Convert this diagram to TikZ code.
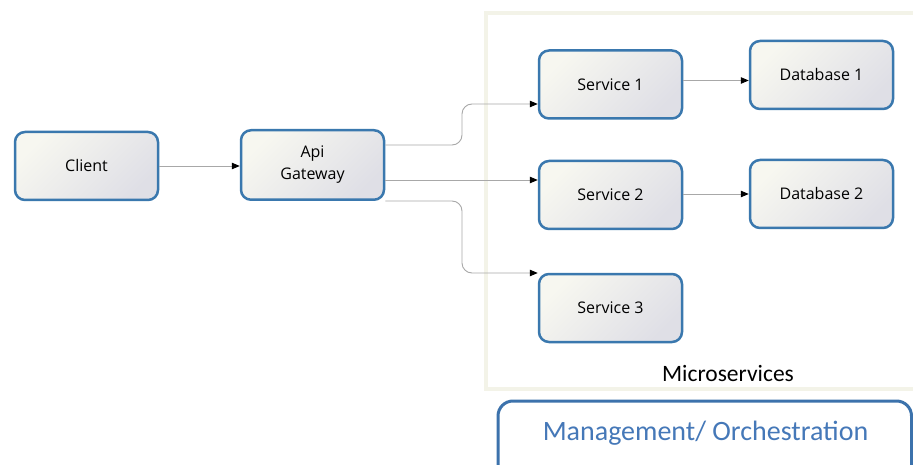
\documentclass[tikz,border=0pt]{standalone}
\usepackage{fontspec}
\setmainfont{Open Sans}
\newfontfamily\carl{Carlito}
\usetikzlibrary{arrows.meta,calc}
\definecolor{nodeblue}{HTML}{3A78AE}
\definecolor{nodelight}{HTML}{F7F7F0}
\definecolor{nodedark}{HTML}{DFDFE6}
\definecolor{framecol}{HTML}{F3F3E8}
\definecolor{conngray}{HTML}{A8A8A8}
\definecolor{mgmtblue}{HTML}{3C72AC}
\definecolor{mgmttext}{HTML}{4578B8}
\tikzset{
  boxnode/.style={draw=nodeblue, line width=2.5pt, rounded corners=10pt,
    top color=nodelight, bottom color=nodedark, shading angle=45,
    minimum width=143pt, minimum height=68pt, inner sep=0pt,
    align=center, font=\fontsize{16}{22}\selectfont},
  conn/.style={draw=conngray, line width=0.9pt,
    -{Triangle[length=8pt,width=6.5pt,fill=black,color=black]}},
}
\begin{document}
\begin{tikzpicture}[x=1pt,y=-1pt]
\useasboundingbox (0,0) rectangle (913,465);
\clip (0,0) rectangle (913,465);
\fill[white] (0,0) rectangle (913,465);
% microservices frame
\draw[framecol, line width=4.5pt, fill=white] (486,13) rectangle (940,389);
\node[font=\carl\fontsize{23.5}{26}\selectfont, anchor=center] (mslabel) at (728,374) {Microservices};
% management box
\draw[mgmtblue, line width=3pt, rounded corners=15pt] (498,401) rectangle (911.5,500);
\node[font=\carl\fontsize{28}{30}\selectfont, text=mgmttext] (mgmt) at (705.5,433) {Management/ Orchestration};
% nodes
\node[boxnode] (client) at (86.5,166) {Client};
\node[boxnode, minimum height=69.5pt] (api) at (312.5,165) {Api\\Gateway};
\node[boxnode] (s1) at (610.5,84.5) {Service 1};
\node[boxnode] (db1) at (821.5,75) {Database 1};
\node[boxnode] (s2) at (610.5,195) {Service 2};
\node[boxnode] (db2) at (821.5,194) {Database 2};
\node[boxnode] (s3) at (610.5,308) {Service 3};
% connector points
\coordinate (c1) at (client.east);
\coordinate (g1) at ([yshift=20pt]api.east);
\coordinate (g2) at ([yshift=-15pt]api.east);
\coordinate (g3) at ([yshift=-36pt]api.east);
\coordinate (t1) at ([yshift=-19.5pt]s1.west);
\coordinate (t3) at ([yshift=35pt]s3.west);
\coordinate (d1) at ([yshift=4pt]s1.east);
\coordinate (d2) at ([yshift=1pt]s2.east);
% connectors
\draw[conn] (c1) -- (c1 -| api.west);
\draw[conn, rounded corners=10pt] (g1) -- (g1 -| 462,0) -- (t1 -| 462,0) -- (t1);
\draw[conn] (g2) -- (g2 -| s2.west);
\draw[conn, rounded corners=10pt] (g3) -- (g3 -| 462,0) -- (t3 -| 462,0) -- (t3);
\draw[conn] (d1) -- (d1 -| db1.west);
\draw[conn] (d2) -- (d2 -| db2.west);
\end{tikzpicture}
\end{document}
